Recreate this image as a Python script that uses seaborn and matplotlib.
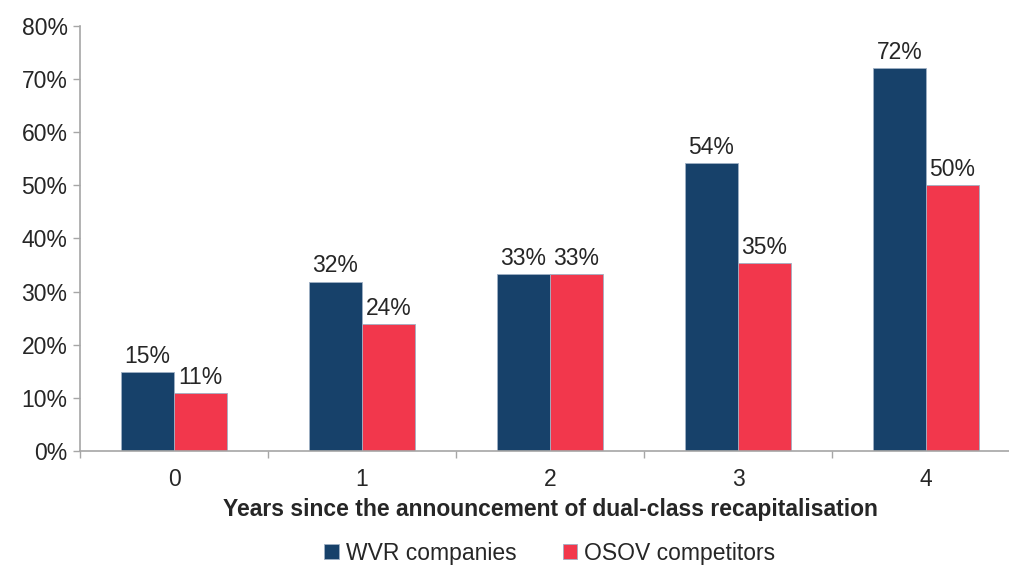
import numpy as np
import pandas as pd
import matplotlib.pyplot as plt
import seaborn as sns

# values (percent)
years = ["0", "1", "2", "3", "4"]
wvr = [14.9, 31.9, 33.3, 54.2, 72.0]
osov = [10.9, 23.9, 33.3, 35.4, 50.1]
series = ["WVR companies", "OSOV competitors"]
colors = ["#17416A", "#F2374C"]

df = pd.DataFrame({
    "year": years * 2,
    "share": wvr + osov,
    "group": [series[0]] * 5 + [series[1]] * 5,
})

sns.set_style("white")
plt.rcParams["font.family"] = ["Liberation Sans", "DejaVu Sans"]

fig = plt.figure(figsize=(10.09, 5.67), dpi=100)
ax = fig.add_axes([0.0793, 0.2046, 0.9316, 0.7496])

sns.barplot(data=df, x="year", y="share", hue="group", palette=colors,
            width=0.565, saturation=1, edgecolor="#9fb0c4", linewidth=0.6,
            ax=ax)

for cont in ax.containers:
    ax.bar_label(cont, fmt="{:.0f}%", padding=3, fontsize=16.5)

ax.set_ylim(0, 80)
ax.set_xlim(-0.5, 4.5)
ax.set_yticks(np.arange(0, 81, 10))
ax.set_yticklabels([f"{v}%" for v in range(0, 81, 10)])
ax.tick_params(axis="y", labelsize=16.5, length=5, width=1, color="#a6a6a6",
               direction="out", left=True, pad=4)
ax.tick_params(axis="x", which="major", labelsize=16.5, length=0, pad=12)
ax.set_xticks(np.arange(-0.5, 5, 1), minor=True)
ax.tick_params(axis="x", which="minor", length=5, width=1, color="#a6a6a6",
               direction="out", bottom=True)

for s in ["top", "right"]:
    ax.spines[s].set_visible(False)
for s in ["left", "bottom"]:
    ax.spines[s].set_color("#a6a6a6")
    ax.spines[s].set_linewidth(1.2)

ax.set_ylabel("")
ax.set_xlabel("Years since the announcement of dual-class recapitalisation",
              fontsize=16.5, fontweight="bold", labelpad=5)

handles, labels = ax.get_legend_handles_labels()
ax.get_legend().remove()
fig.legend(handles, labels, loc="center", bbox_to_anchor=(0.545, 0.024),
           ncol=2, frameon=False, fontsize=16.5, handlelength=0.65,
           handleheight=0.65, handletextpad=0.3, columnspacing=2.0)

fig.savefig("out.png", dpi=100)
